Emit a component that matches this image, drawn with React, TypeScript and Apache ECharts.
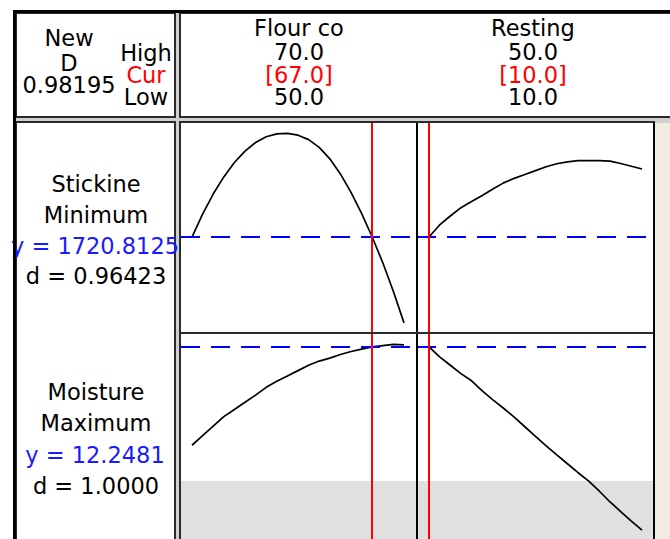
import React, { useEffect, useRef } from "react";
import * as echarts from "echarts";

// Factor settings (High / Cur / Low)
const FACTORS = ["Flour co", "Resting"];
const FACTOR_HIGH = [70.0, 50.0];
const FACTOR_CUR = [67.0, 10.0];
const FACTOR_LOW = [50.0, 10.0];

// Responses and their optimisation results
const RESPONSES = ["Stickine", "Moisture"];
const GOALS = ["Minimum", "Maximum"];
const PRED_Y = [1720.8125, 12.2481];
const DESIRABILITY = [0.96423, 1.0];
const DESIRABILITY_DIGITS = [5, 4];
const COMPOSITE_D = 0.98195;
const MOISTURE_LOWER = 10.0;

// Response traces over Flour content
const FLOUR = [50, 51, 52, 53, 54, 55, 56, 57, 58, 59, 60, 61, 62, 63, 64, 65, 66, 67, 68, 69, 70];
const STICK_BY_FLOUR = [
  1720.8, 1738.5, 1753.9, 1767.1, 1778.2, 1787.0, 1793.6, 1798.0, 1800.2, 1800.6, 1799.2,
  1795.8, 1789.8, 1781.0, 1769.4, 1755.2, 1739.0, 1720.8, 1701.0, 1678.9, 1654.7,
];
const MOIST_BY_FLOUR = [
  10.6, 10.76, 10.92, 11.08, 11.2, 11.32, 11.44, 11.57, 11.67, 11.76, 11.85,
  11.94, 12.01, 12.06, 12.12, 12.17, 12.21, 12.2481, 12.27, 12.29, 12.28,
];

// Response traces over Resting time
const RESTING = [10, 12, 14, 16, 18, 20, 22, 24, 26, 28, 30, 32, 34, 36, 38, 40, 42, 44, 46, 48, 50];
const STICK_BY_RESTING = [
  1720.8125, 1730.1, 1737.0, 1743.4, 1748.1, 1752.8, 1757.8, 1762.5, 1766.0, 1768.9, 1771.9,
  1774.9, 1777.2, 1778.7, 1779.6, 1779.7, 1779.6, 1779.2, 1777.4, 1775.3, 1773.2,
];
const MOIST_BY_RESTING = [
  12.2481, 12.08, 11.94, 11.8, 11.68, 11.51, 11.36, 11.22, 11.07, 10.91, 10.75,
  10.59, 10.44, 10.29, 10.14, 10.0, 9.83, 9.65, 9.49, 9.33, 9.18,
];

// Axis extents (padded around the factor and response ranges)
const X_RANGE = [
  [48.962, 71.226],
  [7.746, 52.254],
];
const Y_RANGE = [
  [1646.9, 1808.6],
  [9.03, 12.48],
];

// Panel geometry
const COL_X = [181, 417, 654];
const ROW_Y = [123, 333, 543];

const FONT_FAMILY = '"DejaVu Sans", Verdana, sans-serif';
const FONT_SIZE = 22.5;
const BLACK = "#000000";
const RED = "#ff0000";
const BLUE = "#1a1aff";
const FRAME = "#2a2a2a";
const GAP = "#cfcfcf";
const BEIGE = "#f1ece1";
const SHADE = "#e0e0e0";

function text(t: string, x: number, y: number, fill = BLACK) {
  return {
    type: "text",
    z: 30,
    style: {
      text: t,
      x,
      y,
      fill,
      fontSize: FONT_SIZE,
      fontFamily: FONT_FAMILY,
      align: "center",
      verticalAlign: "middle",
      textAlign: "center",
      textVerticalAlign: "middle",
    },
  };
}

function rect(x: number, y: number, w: number, h: number, fill: string, z = 0, stroke?: string, lw = 0) {
  return {
    type: "rect",
    z,
    silent: true,
    shape: { x, y, width: w, height: h },
    style: stroke ? { fill, stroke, lineWidth: lw } : { fill },
  };
}

function line(x1: number, y1: number, x2: number, y2: number, stroke: string, lw: number, z = 20) {
  return {
    type: "line",
    z,
    silent: true,
    shape: { x1, y1, x2, y2 },
    style: { stroke, lineWidth: lw },
  };
}

function buildOption() {
  const grids: any[] = [];
  const xAxes: any[] = [];
  const yAxes: any[] = [];
  const series: any[] = [];

  const traces = [
    [
      FLOUR.map((f, i) => [f, STICK_BY_FLOUR[i]]),
      RESTING.map((r, i) => [r, STICK_BY_RESTING[i]]),
    ],
    [
      FLOUR.map((f, i) => [f, MOIST_BY_FLOUR[i]]),
      RESTING.map((r, i) => [r, MOIST_BY_RESTING[i]]),
    ],
  ];

  for (let r = 0; r < 2; r++) {
    for (let c = 0; c < 2; c++) {
      const idx = r * 2 + c;
      grids.push({
        left: COL_X[c],
        top: ROW_Y[r],
        width: COL_X[c + 1] - COL_X[c],
        height: ROW_Y[r + 1] - ROW_Y[r],
        containLabel: false,
      });
      xAxes.push({
        type: "value",
        gridIndex: idx,
        min: X_RANGE[c][0],
        max: X_RANGE[c][1],
        show: false,
      });
      yAxes.push({
        type: "value",
        gridIndex: idx,
        min: Y_RANGE[r][0],
        max: Y_RANGE[r][1],
        show: false,
      });

      // shaded band below the moisture lower bound
      if (r === 1) {
        series.push({
          type: "line",
          xAxisIndex: idx,
          yAxisIndex: idx,
          z: 1,
          data: traces[r][c],
          showSymbol: false,
          silent: true,
          lineStyle: { opacity: 0, width: 0 },
          markArea: {
            silent: true,
            itemStyle: { color: SHADE },
            label: { show: false },
            data: [[{ yAxis: MOISTURE_LOWER }, { yAxis: Y_RANGE[1][0] }]],
          },
        });
      }

      series.push({
        type: "line",
        xAxisIndex: idx,
        yAxisIndex: idx,
        z: 3,
        data: traces[r][c],
        showSymbol: false,
        silent: true,
        lineStyle: { color: BLACK, width: 1.7 },
        markLine: {
          silent: true,
          symbol: ["none", "none"],
          label: { show: false },
          data: [
            { yAxis: PRED_Y[r], lineStyle: { color: "#0000ff", width: 2, type: [19, 11] } },
            { xAxis: FACTOR_CUR[c], lineStyle: { color: RED, width: 2, type: "solid" } },
          ],
        },
      });
    }
  }

  const graphics: any[] = [];
  // frame backgrounds
  graphics.push(rect(16, 13, 654, 526, GAP, 0));
  graphics.push(rect(16, 13, 159, 104, "#ffffff", 0, FRAME, 2));
  graphics.push(rect(180, 13, 500, 104, "#ffffff", 0, FRAME, 2));
  graphics.push(rect(16, 122, 159, 430, "#ffffff", 0, FRAME, 2));
  graphics.push(rect(180, 122, 474, 430, "#ffffff", 0, FRAME, 2));
  graphics.push(rect(655, 123, 15, 416, BEIGE, 0));
  graphics.push(line(654, 122, 654, 539, BLACK, 2, 20));

  // panel dividers
  graphics.push(line(COL_X[1], ROW_Y[0], COL_X[1], 539, BLACK, 2));
  graphics.push(line(COL_X[0], ROW_Y[1], COL_X[2], ROW_Y[1], FRAME, 2));

  // header: composite desirability
  graphics.push(text("New", 69, 38));
  graphics.push(text("D", 69, 63));
  graphics.push(text(COMPOSITE_D.toFixed(5), 69, 85));
  graphics.push(text("High", 146, 53));
  graphics.push(text("Cur", 146, 75, RED));
  graphics.push(text("Low", 146, 97));

  // header: factor settings
  const colCenters = [299, 533];
  FACTORS.forEach((name, c) => {
    const cx = colCenters[c];
    graphics.push(text(name, cx, 28));
    graphics.push(text(FACTOR_HIGH[c].toFixed(1), cx, 52));
    graphics.push(text("[" + FACTOR_CUR[c].toFixed(1) + "]", cx, 75, RED));
    graphics.push(text(FACTOR_LOW[c].toFixed(1), cx, 97));
  });

  // response labels
  const rowTextY = [
    [184, 215, 246, 276],
    [392, 423, 455, 486],
  ];
  RESPONSES.forEach((name, r) => {
    const ys = rowTextY[r];
    graphics.push(text(name, 96, ys[0]));
    graphics.push(text(GOALS[r], 96, ys[1]));
    graphics.push(text("y = " + PRED_Y[r].toString(), 95, ys[2], BLUE));
    graphics.push(text("d = " + DESIRABILITY[r].toFixed(DESIRABILITY_DIGITS[r]), 96, ys[3]));
  });

  // thick outer border
  graphics.push(rect(13, 10, 657, 3, BLACK, 40));
  graphics.push(rect(13, 10, 3, 529, BLACK, 40));

  return {
    animation: false,
    backgroundColor: "#ffffff",
    grid: grids,
    xAxis: xAxes,
    yAxis: yAxes,
    series,
    graphic: { elements: graphics },
  };
}

export default function App() {
  const ref = useRef<HTMLDivElement>(null);
  useEffect(() => {
    if (!ref.current) return;
    const chart = echarts.init(ref.current, null, { renderer: "svg" });
    chart.setOption(buildOption() as any);
    return () => chart.dispose();
  }, []);
  return (
    <div
      ref={ref}
      style={{ position: "fixed", left: 0, top: 0, width: 670, height: 539 }}
    />
  );
}
